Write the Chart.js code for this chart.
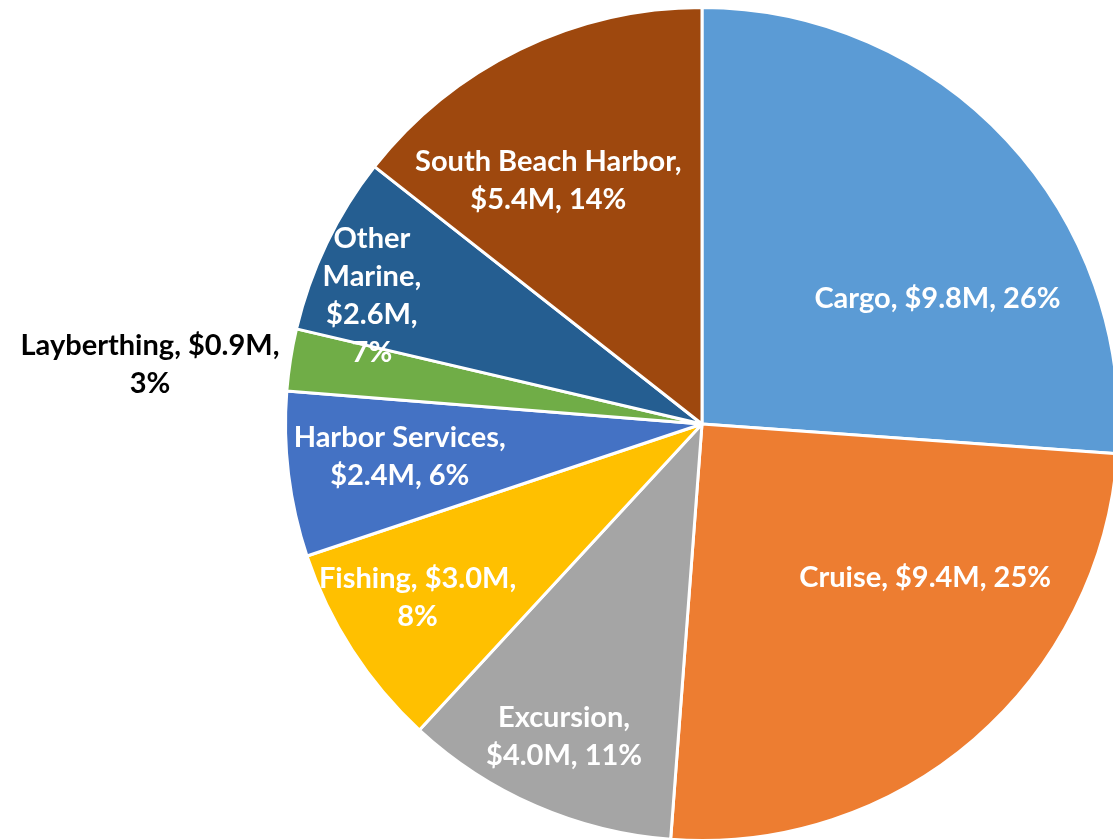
<!DOCTYPE html>
<html>
<head>
<meta charset="utf-8">
<script src="https://cdn.jsdelivr.net/npm/chart.js@4.4.1/dist/chart.umd.min.js"></script>
<style>
  html, body { margin: 0; padding: 0; background: #fff; overflow: hidden; width: 1113px; height: 839px; }
  #chart { position: absolute; left: 0; top: 0; }
</style>
</head>
<body>
<canvas id="chart" width="1122" height="844"></canvas>
<script>
// revenue by line of business, $M
const categories = ["Cargo", "Cruise", "Excursion", "Fishing", "Harbor Services", "Layberthing", "Other Marine", "South Beach Harbor"];
const revenue = [9.8, 9.4, 4.0, 3.0, 2.4, 0.9, 2.6, 5.4];
const shareLabels = ["26%", "25%", "11%", "8%", "6%", "3%", "7%", "14%"];

const colors = ["#5B9BD5", "#ED7D31", "#A5A5A5", "#FFC000", "#4472C4", "#70AD47", "#255E91", "#9E480E"];

// label text split into lines like the original
const labelLines = [
  ["Cargo, $9.8M, 26%"],
  ["Cruise, $9.4M, 25%"],
  ["Excursion,", "$4.0M, 11%"],
  ["Fishing, $3.0M,", "8%"],
  ["Harbor Services,", "$2.4M, 6%"],
  ["Layberthing, $0.9M,", "3%"],
  ["Other", "Marine,", "$2.6M,", "7%"],
  ["South Beach Harbor,", "$5.4M, 14%"]
];
// label placement: fraction of radius, angle shift from slice middle (deg)
const labelDist = [0.64, 0.65, 0.82, 0.80, 0.73, 1.333, 0.85, 0.69];
const labelShift = [15, -14.7, 0.3, 1.5, 0.8, -2.7, -4.5, -6.4];
const labelColor = ["#fff", "#fff", "#fff", "#fff", "#fff", "#000", "#fff", "#fff"];

const FONT = "bold 29px Lato, 'Open Sans', sans-serif";
const LINE_H = 38;

const labelPlugin = {
  id: "sliceLabels",
  afterDatasetsDraw(chart) {
    const { ctx } = chart;
    const arcs = chart.getDatasetMeta(0).data;
    ctx.save();
    ctx.font = FONT;
    ctx.textAlign = "center";
    ctx.textBaseline = "middle";
    arcs.forEach((arc, i) => {
      const p = arc.getProps(["x", "y", "startAngle", "endAngle", "outerRadius"], true);
      const a = (p.startAngle + p.endAngle) / 2 + labelShift[i] * Math.PI / 180;
      const r = p.outerRadius * labelDist[i];
      const cx = p.x + Math.cos(a) * r;
      const cy = p.y + Math.sin(a) * r;
      const lines = labelLines[i];
      const top = cy - (lines.length - 1) * LINE_H / 2;
      ctx.fillStyle = labelColor[i];
      lines.forEach((ln, k) => ctx.fillText(ln, cx, top + k * LINE_H));
    });
    ctx.restore();
  }
};

new Chart(document.getElementById("chart").getContext("2d"), {
  type: "pie",
  data: {
    labels: categories,
    datasets: [{
      data: revenue,
      backgroundColor: colors,
      borderColor: "#ffffff",
      borderWidth: 3
    }]
  },
  options: {
    responsive: false,
    animation: false,
    layout: { padding: { left: 284, top: 6, right: 2, bottom: 2 } },
    plugins: {
      legend: { display: false },
      tooltip: { enabled: false }
    }
  },
  plugins: [labelPlugin]
});
</script>
</body>
</html>
